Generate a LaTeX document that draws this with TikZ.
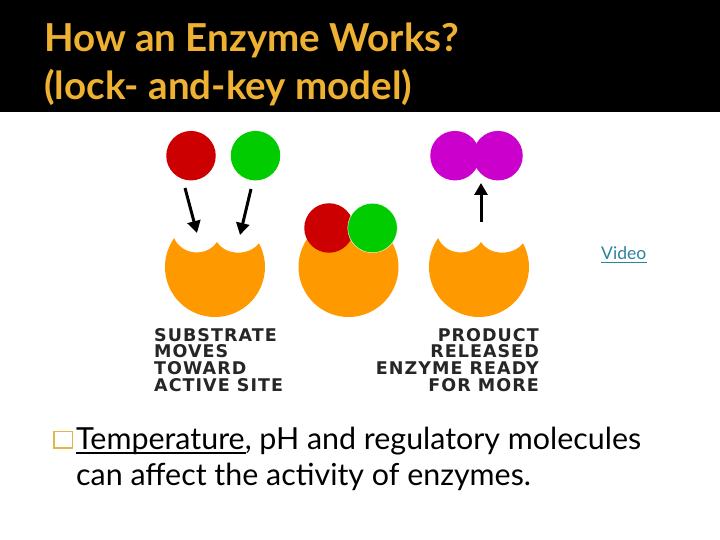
\documentclass[tikz,border=0pt]{standalone}
\usepackage{fontspec}
\setmainfont{Lato}
\newfontfamily\handfont[LetterSpace=6]{DejaVu Sans}
\usetikzlibrary{arrows.meta}
\definecolor{enzorange}{HTML}{FF9900}
\definecolor{subred}{HTML}{CC0000}
\definecolor{subgreen}{HTML}{00CC00}
\definecolor{subpurple}{HTML}{CC00CC}
\definecolor{titlegold}{HTML}{EFB132}
\definecolor{linkteal}{HTML}{2C83A0}
\definecolor{bulletgold}{HTML}{E0B84A}
\tikzset{
  ball/.style={circle,inner sep=0pt,minimum size=49.5pt,fill=#1},
  moveto/.style={line width=3pt,-{Triangle[length=12pt,width=13pt]}},
  titletext/.style={text=titlegold,anchor=base west,inner sep=0pt,font=\fontsize{38.5}{38.5}\selectfont\bfseries},
  bodytext/.style={text=black,anchor=base west,inner sep=0pt,font=\fontsize{30.4}{30.4}\selectfont},
  handtext/.style={inner sep=0pt,text=black!85,font=\fontsize{17.5}{16.8}\handfont\bfseries}
}
\newcommand{\enzymeshape}[2]{%
  \fill[enzorange,shift={(#1,#2)}] (-41,29) .. controls (-33,11) and (-8,10) .. (2,25)
    .. controls (11,11) and (34,11) .. (44,23.7)
    arc[start angle=28.3,end angle=-215.3,radius=50] -- cycle;}
\begin{document}
\begin{tikzpicture}[x=1pt,y=1pt]
\useasboundingbox (0,0) rectangle (720,540);
\fill[white] (0,0) rectangle (720,540);
\fill[black] (0,428) rectangle (720,540);
\node[titletext] (title1) at (44,488) {How an Enzyme Works?};
\node[titletext] (title2) at (44,440) {(lock- and-key model)};
% enzymes
\enzymeshape{215}{273}
\fill[enzorange] (348.5,273) circle[radius=50];
\enzymeshape{479}{273}
% substrates
\node[ball=subred] (red1) at (191,384.3) {};
\node[ball=subgreen] (green1) at (255.5,384.3) {};
\node[ball=subred] (red2) at (329,312) {};
\node[ball=subgreen,draw=white,line width=0.4pt] (green2) at (372.5,312) {};
\node[ball=subpurple] (prod1) at (455,384.3) {};
\node[ball=subpurple] (prod2) at (498,384.3) {};
% arrows
\coordinate (a1s) at (185,352);
\coordinate (a1e) at (197,307);
\coordinate (a2s) at (251,351);
\coordinate (a2e) at (240,305);
\coordinate (a3s) at (481,318);
\coordinate (a3e) at (481,357);
\draw[moveto] (a1s) -- (a1e);
\draw[moveto] (a2s) -- (a2e);
\draw[moveto] (a3s) -- (a3e);
% captions
\node[handtext,anchor=north west,align=left] (cap1) at (154,212)
  {SUBSTRATE\\MOVES\\TOWARD\\ACTIVE SITE};
\node[handtext,anchor=north east,align=right] (cap2) at (539,212)
  {PRODUCT\\RELEASED\\ENZYME READY\\FOR MORE};
% link
\node[text=linkteal,anchor=base west,inner sep=0pt,font=\fontsize{17.5}{17.5}\selectfont] (video) at (601,280) {Video};
\draw[linkteal,line width=1pt] (601,277.5) -- (647,277.5);
% bullet text
\node[draw=bulletgold,line width=1.5pt,fill=white,inner sep=0pt,minimum width=18.5pt,minimum height=16.5pt] (bullet) at (63,100) {};
\node[bodytext] (line1) at (76,90) {Temperature, pH and regulatory molecules};
\node[bodytext] (line2) at (76,54) {can affect the activity of enzymes.};
\draw[black,line width=1.4pt] (76,87) -- (246,87);
\end{tikzpicture}
\end{document}
